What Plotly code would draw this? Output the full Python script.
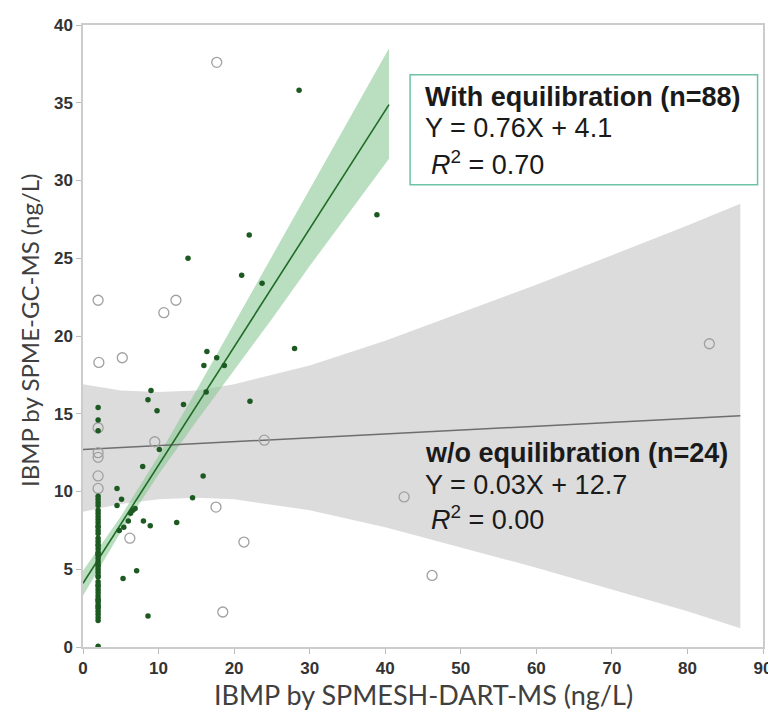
import plotly.graph_objects as go

# ---- Data ----
# With equilibration (n=88): filled dark-green dots
eq_x = [28.6, 38.9, 22.0, 13.9, 21.0, 23.7, 28.0, 16.4, 16.0, 17.7, 18.7, 9.0, 8.6, 9.8,
        13.3, 22.1, 16.3, 10.1, 7.9, 15.9, 4.5, 4.5, 5.1, 14.5, 6.6, 6.0, 8.0, 8.9, 12.4,
        4.8, 5.4, 7.1, 5.3, 8.6, 2.0, 6.3, 6.9,
        2.0, 2.0, 2.0, 2.0, 2.0, 2.0, 2.0, 2.0, 2.0, 2.0, 2.0, 2.0, 2.0, 2.0, 2.0, 2.0,
        2.0, 2.0, 2.0, 2.0, 2.0, 2.0, 2.0, 2.0, 2.0, 2.0, 2.0, 2.0, 2.0, 2.0, 2.0, 2.0,
        2.0, 2.0, 2.0, 2.0, 2.0, 2.0, 2.0, 2.0, 2.0, 2.0, 2.0, 2.0, 2.0, 2.0, 2.0, 2.0]
eq_y = [35.8, 27.8, 26.5, 25.0, 23.9, 23.4, 19.2, 19.0, 18.1, 18.6, 18.1, 16.5, 15.9, 15.2,
        15.6, 15.8, 16.4, 12.7, 11.6, 11.0, 10.2, 9.1, 9.5, 9.6, 8.8, 8.1, 8.1, 7.8, 8.0,
        7.5, 7.7, 4.9, 4.4, 2.0, 0.05, 8.6, 8.9,
        15.4, 14.6, 13.9, 9.7, 9.5, 9.3, 9.1, 8.8, 8.6, 8.4, 8.2, 8.0, 7.8, 7.5, 7.3, 7.0,
        6.8, 6.6, 6.3, 6.1, 5.9, 5.7, 5.5, 5.3, 5.0, 4.8, 4.5, 4.2, 4.0, 3.7, 3.5, 3.3,
        3.1, 2.9, 2.7, 2.5, 2.3, 2.1, 1.9, 1.7, 6.0, 5.2, 4.6, 3.0, 2.6, 7.7, 6.5, 3.9]

# Without equilibration (n=24): open grey circles
noeq_x = [17.7, 2.0, 12.3, 10.7, 2.1, 5.2, 2.0, 2.0, 2.0, 2.0, 2.0, 9.5, 24.0, 6.2,
          17.6, 21.3, 18.5, 42.5, 46.2, 82.9]
noeq_y = [37.6, 22.3, 22.3, 21.5, 18.3, 18.6, 14.1, 12.5, 12.2, 11.0, 10.2, 13.2, 13.3, 7.0,
          9.0, 6.75, 2.25, 9.65, 4.6, 19.5]

# Fitted lines (as labelled) and their confidence bands
eq_slope, eq_icpt = 0.76, 4.1
eq_fit_x = [0, 40.5]
eq_band_x = [0, 5, 10, 15, 20, 25, 30, 35, 40.5]
eq_band_hi = [4.9, 8.4, 12.3, 16.5, 20.8, 25.1, 29.4, 33.7, 38.5]
eq_band_lo = [3.3, 7.4, 11.1, 14.5, 17.8, 21.1, 24.5, 27.8, 31.4]

noeq_slope, noeq_icpt = 0.025, 12.7
noeq_fit_x = [0, 87]
noeq_band_x = [0, 5, 10, 15, 20, 30, 40, 50, 60, 70, 80, 87]
noeq_band_hi = [16.9, 16.5, 16.4, 16.5, 16.9, 18.1, 19.7, 21.5, 23.3, 25.2, 27.1, 28.5]
noeq_band_lo = [8.7, 9.2, 9.5, 9.6, 9.5, 8.8, 7.7, 6.4, 5.1, 3.7, 2.3, 1.2]

x_ticks = [0, 10, 20, 30, 40, 50, 60, 70, 80, 90]
y_ticks = [0, 5, 10, 15, 20, 25, 30, 35, 40]
x_title = "IBMP by SPMESH-DART-MS (ng/L)"
y_title = "IBMP by SPME-GC-MS (ng/L)"

fig = go.Figure()

# grey band (w/o equilibration)
fig.add_trace(go.Scatter(x=noeq_band_x + noeq_band_x[::-1],
                         y=noeq_band_hi + noeq_band_lo[::-1],
                         fill="toself", fillcolor="#dcdcdc", line=dict(width=0),
                         mode="lines", hoverinfo="skip", showlegend=False))
# green band
fig.add_trace(go.Scatter(x=eq_band_x + eq_band_x[::-1],
                         y=eq_band_hi + eq_band_lo[::-1],
                         fill="toself", fillcolor="rgba(140,200,150,0.6)", line=dict(width=0),
                         mode="lines", hoverinfo="skip", showlegend=False))
# grey fit line
fig.add_trace(go.Scatter(x=noeq_fit_x, y=[noeq_slope * v + noeq_icpt for v in noeq_fit_x],
                         mode="lines", line=dict(color="#6e6e6e", width=1.5), showlegend=False))
# green fit line
fig.add_trace(go.Scatter(x=eq_fit_x, y=[eq_slope * v + eq_icpt for v in eq_fit_x],
                         mode="lines", line=dict(color="#1f6b25", width=1.6), showlegend=False))
# open circles
fig.add_trace(go.Scatter(x=noeq_x, y=noeq_y, mode="markers", cliponaxis=False,
                         marker=dict(symbol="circle-open", size=10, color="#a0a0a0",
                                     line=dict(width=1.3, color="#a0a0a0")),
                         showlegend=False))
# filled dots
fig.add_trace(go.Scatter(x=eq_x, y=eq_y, mode="markers", cliponaxis=False,
                         marker=dict(symbol="circle", size=5.5, color="#1d5a22"),
                         showlegend=False))

axis_common = dict(showline=True, linecolor="#cccccc", linewidth=1.5, mirror=True,
                   showgrid=False, zeroline=False, ticks="outside", ticklen=5,
                   tickcolor="#bbbbbb", automargin=False,
                   tickfont=dict(family="Liberation Sans, Arial", size=17, color="#333333"))

fig.update_xaxes(range=[0, 90], tickvals=x_ticks,
                 ticktext=["<b>%d</b>" % v for v in x_ticks], **axis_common)
fig.update_yaxes(range=[0, 40], tickvals=y_ticks,
                 ticktext=["<b>%d</b>" % v for v in y_ticks], **axis_common)

# axis titles
fig.add_annotation(x=0.5, y=-0.077, xref="paper", yref="paper", text=x_title,
                   showarrow=False, xanchor="center", yanchor="middle",
                   font=dict(family="Lato", size=27, color="#404040"))
fig.add_annotation(x=-0.079, y=0.510, xref="paper", yref="paper", text=y_title,
                   showarrow=False, xanchor="center", yanchor="middle", textangle=-90,
                   font=dict(family="Lato", size=24, color="#404040"))

tf = "Liberation Sans, Arial"
ann = [
    (0.50, 0.884, "<b>With equilibration (n=88)</b>"),
    (0.50, 0.834, "Y = 0.76X + 4.1"),
    (0.509, 0.778, "<i>R</i><sup>2</sup> = 0.70"),
    (0.50, 0.312, "<b>w/o equilibration (n=24)</b>"),
    (0.50, 0.260, "Y = 0.03X + 12.7"),
    (0.509, 0.207, "<i>R</i><sup>2</sup> = 0.00"),
]
for ax, ay, t in ann:
    fig.add_annotation(x=ax, y=ay, xref="paper", yref="paper", text=t, showarrow=False,
                       xanchor="left", yanchor="middle",
                       font=dict(family=tf, size=27, color="#1a1a1a"))

fig.add_shape(type="rect", xref="paper", yref="paper", x0=0.481, x1=0.992, y0=0.743, y1=0.920,
              line=dict(color="#6cc3a5", width=1.5), fillcolor="rgba(255,255,255,0)")

# page body adds an 8px offset, so the figure is 8px smaller than the window
fig.update_layout(width=768, height=703, paper_bgcolor="white", plot_bgcolor="white",
                  margin=dict(l=75, r=13, t=17, b=64), showlegend=False)

fig.write_html("out.html")
